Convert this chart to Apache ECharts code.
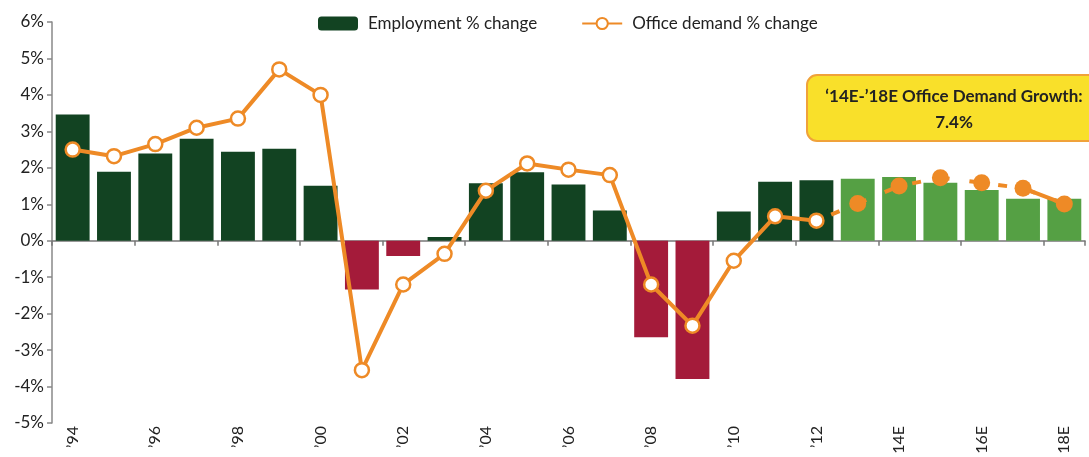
<!DOCTYPE html>
<html>
<head>
<meta charset="utf-8">
<script src="https://cdn.jsdelivr.net/npm/echarts@6/dist/echarts.min.js"></script>
<style>
html,body{margin:0;padding:0;background:#fff;}
#chart{width:1089px;height:457px;}
</style>
</head>
<body>
<div id="chart"></div>
<script>
const categories = ["’94","’95","’96","’97","’98","’99","’00","’01","’02","’03","’04","’05","’06","’07","’08","’09","’10","’11","’12","13E","14E","15E","16E","17E","18E"];
const employment = [3.46,1.89,2.39,2.80,2.44,2.52,1.51,-1.34,-0.42,0.10,1.58,1.88,1.54,0.83,-2.65,-3.79,0.80,1.62,1.66,1.70,1.75,1.59,1.39,1.15,1.15];
const demandHistoric = [2.50,2.32,2.65,3.10,3.35,4.70,4.00,-3.55,-1.20,-0.36,1.37,2.12,1.95,1.80,-1.20,-2.33,-0.55,0.67,0.55];
const demandForecast = [1.02,1.50,1.73,1.59,1.44,1.01];
const yTicks = [-5,-4,-3,-2,-1,0,1,2,3,4,5,6];
const forecastStart = 19;
const annotationLines = ["‘14E-’18E Office Demand Growth:", "7.4%"];

const ORANGE = '#ee8a26';
const DARK = '#124322';
const RED = '#a41b3a';
const LIGHT = '#55a044';

const histData = categories.map((c,i)=> i < demandHistoric.length ? demandHistoric[i] : null);
const fcData = categories.map((c,i)=>{
  if (i === forecastStart-1) return {value: demandHistoric[i], symbol:'none'};
  if (i >= forecastStart) return demandForecast[i-forecastStart];
  return null;
});
// last forecast segment drawn solid in the original
const fcSolid = categories.map((c,i)=> i >= categories.length-2 ? demandForecast[i-forecastStart] : null);

const chart = echarts.init(document.getElementById('chart'));
chart.setOption({
  animation:false,
  textStyle:{fontFamily:'Lato'},
  grid:{left:52,right:4,top:22,bottom:34,containLabel:false},
  legend:{
    left:313, top:10,
    data:[{name:'Employment % change',itemStyle:{color:DARK}},{name:'Office demand % change'}],
    itemWidth:40, itemHeight:14, itemGap:44,
    textStyle:{fontSize:17,color:'#222',fontFamily:'Lato',padding:[0,0,0,5]}
  },
  xAxis:[
    {type:'category',data:categories,position:'bottom',
     axisLine:{show:false,onZero:false},axisTick:{show:false},
     axisLabel:{interval:1,rotate:90,fontSize:16,color:'#222',margin:3,fontFamily:'Lato'}},
    {type:'category',data:categories,position:'top',
     axisLine:{show:true,onZero:true,lineStyle:{color:'#777',width:1.5}},
     axisTick:{show:true,interval:1,inside:true,length:5,lineStyle:{color:'#777',width:1.5}},
     axisLabel:{show:false}}
  ],
  yAxis:{type:'value',min:yTicks[0],max:yTicks[yTicks.length-1],interval:1,
    axisLine:{show:true,lineStyle:{color:'#888',width:1.5}},
    axisTick:{show:true,length:5,lineStyle:{color:'#888',width:1.5}},
    splitLine:{show:false},
    axisLabel:{formatter:'{value}%',fontSize:17,color:'#222',margin:8,fontFamily:'Lato'}},
  series:[
    {name:'Employment % change',type:'bar',data:employment,barCategoryGap:'18%',
     itemStyle:{color:(p)=> p.dataIndex>=forecastStart ? LIGHT : (p.value<0 ? RED : DARK)},
     z:2},
    {name:'Office demand % change',type:'line',data:histData,
     symbol:'circle',symbolSize:14,showAllSymbol:true,
     lineStyle:{color:ORANGE,width:4},
     itemStyle:{color:'#fff',borderColor:ORANGE,borderWidth:2.5},
     z:4},
    {name:'forecast',type:'line',data:fcData,
     symbol:'circle',symbolSize:17,showAllSymbol:true,
     lineStyle:{color:ORANGE,width:4,type:[9,20],dashOffset:-16},
     itemStyle:{color:ORANGE,borderColor:ORANGE,borderWidth:0},
     z:3},
    {name:'forecastSolid',type:'line',data:fcSolid,symbol:'none',
     lineStyle:{color:ORANGE,width:4},z:3}
  ],
  graphic:[
    {type:'rect',left:806,top:74,shape:{width:300,height:66,r:10},
     style:{fill:'#f9e02a',stroke:'#f0a23a',lineWidth:2},z:10},
    {type:'text',x:954,y:97,style:{text:annotationLines[0],font:'bold 17px Lato',fill:'#222',textAlign:'center',textVerticalAlign:'middle'},z:11},
    {type:'text',x:954,y:123,style:{text:annotationLines[1],font:'bold 17px Lato',fill:'#222',textAlign:'center',textVerticalAlign:'middle'},z:11}
  ]
});
</script>
</body>
</html>
